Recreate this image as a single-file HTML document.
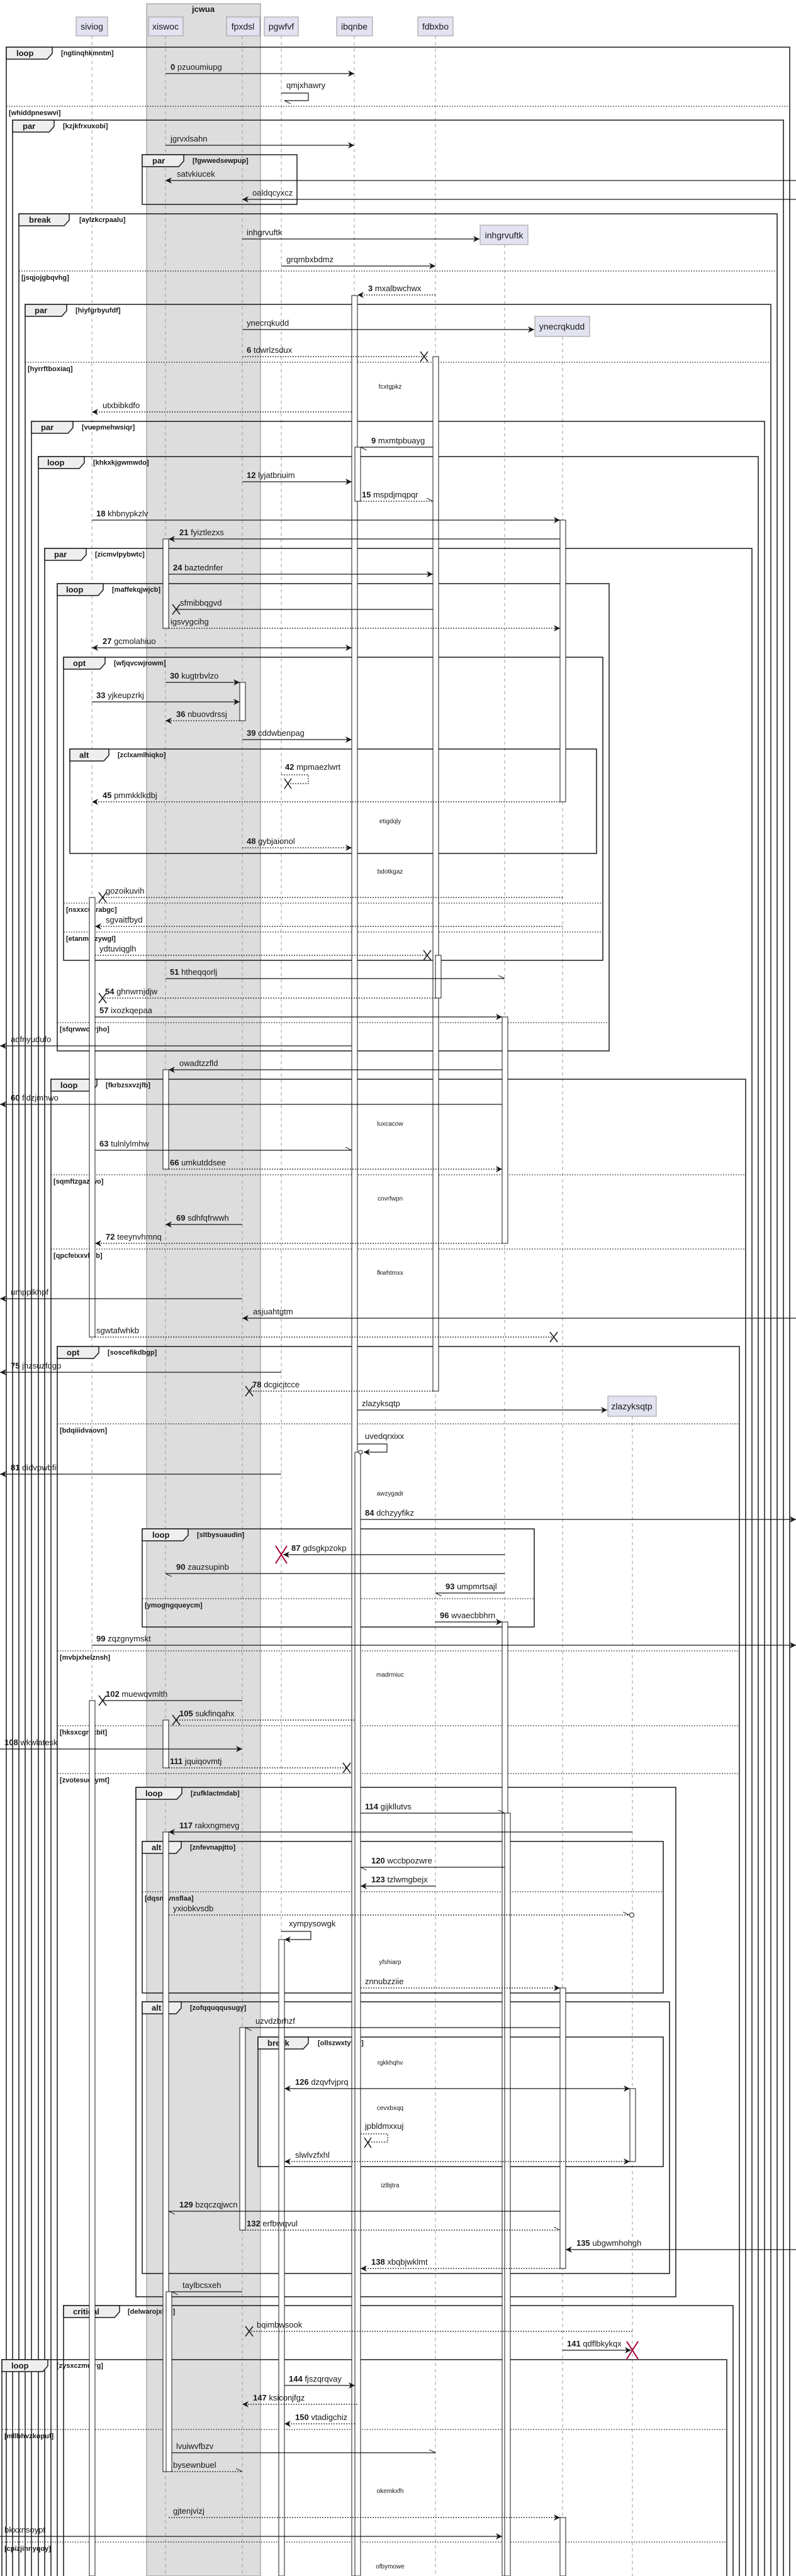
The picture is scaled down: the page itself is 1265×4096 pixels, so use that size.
<!DOCTYPE html>
<html><head><meta charset="utf-8"><style>
html,body{margin:0;padding:0;background:#fff}
svg{display:block}
text{font-family:"Liberation Sans",sans-serif;font-size:13px;fill:#181818}
.b{font-weight:bold}
.c{font-size:11px;font-weight:bold}
.t{font-size:13px;font-weight:bold}
.dv{font-size:10px}
.p{font-size:14px}
.ll{stroke:#999;stroke-width:1;stroke-dasharray:5,5}
.f{fill:none;stroke:#181818;stroke-width:1.5}
.sp{stroke:#181818;stroke-width:1;stroke-dasharray:2,2}
.m{stroke:#181818;stroke-width:1.2;fill:none}
.d{stroke:#181818;stroke-width:1.2;stroke-dasharray:2,2;fill:none}
.act{fill:#fff;stroke:#181818;stroke-width:1}
.tab{fill:#eee;stroke:#181818;stroke-width:1.5}
.x{stroke:#181818;stroke-width:1.5}
.rx{stroke:#a80036;stroke-width:2}
</style></head><body>
<svg width="1265" height="4096" viewBox="0 0 1265 4096" xmlns="http://www.w3.org/2000/svg">
<defs>
<marker id="a" markerUnits="userSpaceOnUse" markerWidth="12" markerHeight="10" refX="10" refY="5" orient="auto-start-reverse"><path d="M0,0 L10,5 L0,10 L3,5 z" fill="#181818"/></marker>
<marker id="o" markerUnits="userSpaceOnUse" markerWidth="12" markerHeight="10" refX="10" refY="5" orient="auto"><path d="M0,0 L10,5" stroke="#181818" fill="none"/></marker>
</defs>
<!-- group -->
<rect x="233" y="6" width="181" height="4090" fill="#ddd" stroke="#888"/>
<text x="323" y="19" class="t" text-anchor="middle">jcwua</text>
<!-- participants -->
<g fill="#e2e2f0" stroke="#999">
<rect x="121" y="27" width="50" height="30"/><rect x="236" y="27" width="55" height="30"/><rect x="360" y="27" width="53" height="30"/><rect x="420" y="27" width="54" height="30"/><rect x="535" y="27" width="57" height="30"/><rect x="664" y="27" width="56" height="30"/>
<rect x="763" y="358" width="76" height="31"/><rect x="850" y="503" width="87" height="32"/><rect x="966" y="2220" width="77" height="32"/>
</g>
<g class="p" text-anchor="middle">
<text x="146" y="47" class="p">siviog</text><text x="263" y="47" class="p">xiswoc</text><text x="386" y="47" class="p">fpxdsl</text><text x="447" y="47" class="p">pgwfvf</text><text x="563" y="47" class="p">ibqnbe</text><text x="692" y="47" class="p">fdbxbo</text>
<text x="801" y="379" class="p">inhgrvuftk</text><text x="893" y="524" class="p">ynecrqkudd</text><text x="1004" y="2241" class="p">zlazyksqtp</text>
</g>
<!-- lifelines -->
<g class="ll">
<line x1="146" y1="57" x2="146" y2="4096"/><line x1="263" y1="57" x2="263" y2="4096"/><line x1="385" y1="57" x2="385" y2="4096"/><line x1="447" y1="57" x2="447" y2="4096"/><line x1="563" y1="57" x2="563" y2="4096"/><line x1="692" y1="57" x2="692" y2="4096"/><line x1="802" y1="389" x2="802" y2="4096"/><line x1="894" y1="535" x2="894" y2="4096"/><line x1="1005" y1="2252" x2="1005" y2="4096"/>
</g>
<!-- frames -->
<g class="f">
<rect x="10" y="75" width="1245" height="4030"/>
<rect x="20" y="191" width="1225" height="3920"/>
<rect x="226" y="246" width="246" height="79"/>
<rect x="30" y="340" width="1205" height="3770"/>
<rect x="40" y="484" width="1185" height="3630"/>
<rect x="50" y="670" width="1165" height="3450"/>
<rect x="61" y="726" width="1144" height="3400"/>
<rect x="71" y="872" width="1124" height="3260"/>
<rect x="91" y="928" width="877" height="743"/>
<rect x="101" y="1045" width="857" height="482"/>
<rect x="111" y="1191" width="837" height="166"/>
<rect x="81" y="1716" width="1104" height="2420"/>
<rect x="91" y="2141" width="1084" height="2000"/>
<rect x="226" y="2431" width="623" height="156"/>
<rect x="216" y="2842" width="858" height="810"/>
<rect x="226" y="2928" width="828" height="241"/>
<rect x="226" y="3183" width="838" height="432"/>
<rect x="410" y="3239" width="644" height="206"/>
<rect x="101" y="3666" width="1064" height="500"/>
<rect x="3" y="3752" width="1152" height="400"/>
</g>
<!-- tabs -->
<g>
<polygon class="tab" points="10,75 83,75 83,85 75,94 10,94"/><text x="26" y="89" class="t">loop</text><text x="97" y="88" class="c">[ngtinqhkmntm]</text>
<polygon class="tab" points="20,191 86,191 86,201 78,210 20,210"/><text x="36" y="205" class="t">par</text><text x="100" y="204" class="c">[kzjkfrxuxobi]</text>
<polygon class="tab" points="226,246 292,246 292,256 284,265 226,265"/><text x="242" y="260" class="t">par</text><text x="306" y="259" class="c">[fgwwedsewpup]</text>
<polygon class="tab" points="30,340 110,340 110,350 102,359 30,359"/><text x="46" y="354" class="t">break</text><text x="126" y="353" class="c">[aylzkcrpaalu]</text>
<polygon class="tab" points="40,484 106,484 106,494 98,503 40,503"/><text x="55" y="498" class="t">par</text><text x="120" y="497" class="c">[hiyfgrbyufdf]</text>
<polygon class="tab" points="50,670 116,670 116,680 108,689 50,689"/><text x="65" y="684" class="t">par</text><text x="130" y="683" class="c">[vuepmehwsiqr]</text>
<polygon class="tab" points="61,726 134,726 134,736 126,745 61,745"/><text x="75" y="740" class="t">loop</text><text x="148" y="739" class="c">[khkxkjgwmwdo]</text>
<polygon class="tab" points="71,872 137,872 137,882 129,891 71,891"/><text x="86" y="886" class="t">par</text><text x="151" y="885" class="c">[zicmvlpybwtc]</text>
<polygon class="tab" points="91,928 164,928 164,938 156,947 91,947"/><text x="105" y="942" class="t">loop</text><text x="178" y="941" class="c">[maffekqjwjcb]</text>
<polygon class="tab" points="101,1045 167,1045 167,1055 159,1064 101,1064"/><text x="116" y="1059" class="t">opt</text><text x="181" y="1058" class="c">[wfjqvcwjrowm]</text>
<polygon class="tab" points="111,1191 173,1191 173,1201 165,1210 111,1210"/><text x="126" y="1205" class="t">alt</text><text x="187" y="1204" class="c">[zclxamlhiqko]</text>
<polygon class="tab" points="81,1716 154,1716 154,1726 146,1735 81,1735"/><text x="96" y="1730" class="t">loop</text><text x="168" y="1729" class="c">[fkrbzsxvzjfb]</text>
<polygon class="tab" points="91,2141 157,2141 157,2151 149,2160 91,2160"/><text x="106" y="2155" class="t">opt</text><text x="171" y="2154" class="c">[soscefikdbgp]</text>
<polygon class="tab" points="226,2431 299,2431 299,2441 291,2450 226,2450"/><text x="242" y="2445" class="t">loop</text><text x="313" y="2444" class="c">[sltbysuaudin]</text>
<polygon class="tab" points="216,2842 289,2842 289,2852 281,2861 216,2861"/><text x="231" y="2856" class="t">loop</text><text x="303" y="2855" class="c">[zufklactmdab]</text>
<polygon class="tab" points="226,2928 288,2928 288,2938 280,2947 226,2947"/><text x="241" y="2942" class="t">alt</text><text x="302" y="2941" class="c">[znfevnapjtto]</text>
<polygon class="tab" points="226,3183 288,3183 288,3193 280,3202 226,3202"/><text x="241" y="3197" class="t">alt</text><text x="302" y="3196" class="c">[zofqquqqusugy]</text>
<polygon class="tab" points="410,3239 490,3239 490,3249 482,3258 410,3258"/><text x="425" y="3253" class="t">break</text><text x="505" y="3252" class="c">[ollszwxtytqy]</text>
<polygon class="tab" points="101,3666 190,3666 190,3676 182,3685 101,3685"/><text x="116" y="3680" class="t">critical</text><text x="203" y="3679" class="c">[delwarojxhfu]</text>
<polygon class="tab" points="3,3752 76,3752 76,3762 68,3771 3,3771"/><text x="18" y="3766" class="t">loop</text><text x="90" y="3765" class="c">[zysxczmufrg]</text>
</g>
<!-- separators -->
<g>
<line class="sp" x1="10" y1="169" x2="1255" y2="169"/><text x="14" y="183" class="c">[whiddpneswvi]</text>
<line class="sp" x1="30" y1="431" x2="1235" y2="431"/><text x="34" y="445" class="c">[jsqjojgbqvhg]</text>
<line class="sp" x1="40" y1="576" x2="1225" y2="576"/><text x="44" y="590" class="c">[hyrrftboxiaq]</text>
<line class="sp" x1="101" y1="1436" x2="958" y2="1436"/><text x="105" y="1450" class="c">[nsxxcuzrabgc]</text>
<line class="sp" x1="101" y1="1482" x2="958" y2="1482"/><text x="105" y="1496" class="c">[etanmiszywgl]</text>
<line class="sp" x1="91" y1="1626" x2="968" y2="1626"/><text x="95" y="1640" class="c">[sfqrwwcorjho]</text>
<line class="sp" x1="81" y1="1868" x2="1185" y2="1868"/><text x="85" y="1882" class="c">[sqmftzgazjwo]</text>
<line class="sp" x1="81" y1="1986" x2="1185" y2="1986"/><text x="85" y="2000" class="c">[qpcfeixxvkqb]</text>
<line class="sp" x1="91" y1="2264" x2="1175" y2="2264"/><text x="95" y="2278" class="c">[bdqiiidvaovn]</text>
<line class="sp" x1="226" y1="2542" x2="849" y2="2542"/><text x="230" y="2556" class="c">[ymogngqueycm]</text>
<line class="sp" x1="91" y1="2625" x2="1175" y2="2625"/><text x="95" y="2639" class="c">[mvbjxhelznsh]</text>
<line class="sp" x1="91" y1="2744" x2="1175" y2="2744"/><text x="95" y="2758" class="c">[hksxcgrqzbit]</text>
<line class="sp" x1="91" y1="2820" x2="1175" y2="2820"/><text x="95" y="2834" class="c">[zvotesuqrymt]</text>
<line class="sp" x1="226" y1="3008" x2="1054" y2="3008"/><text x="230" y="3022" class="c">[dqsncvnsflaa]</text>
<line class="sp" x1="3" y1="3863" x2="1155" y2="3863"/><text x="7" y="3877" class="c">[mllbhvzkopuf]</text>
<line class="sp" x1="3" y1="4042" x2="1155" y2="4042"/><text x="7" y="4056" class="c">[cpizjihnyqoy]</text>
</g>
<!-- dividers -->
<g class="dv" text-anchor="middle">
<text x="620" y="618" class="dv">fcxtgpkz</text><text x="620" y="1309" class="dv">etigdqly</text><text x="620" y="1389" class="dv">bdotkgaz</text><text x="620" y="1790" class="dv">luxcacow</text><text x="620" y="1909" class="dv">cnvrfwpn</text><text x="620" y="2027" class="dv">fkwhtmxx</text><text x="620" y="2378" class="dv">awzygadr</text><text x="620" y="2666" class="dv">madrmiuc</text><text x="620" y="3123" class="dv">yfshiarp</text><text x="620" y="3283" class="dv">rgkkhqhv</text><text x="620" y="3355" class="dv">cevxbxqq</text><text x="620" y="3478" class="dv">izlbjtra</text><text x="620" y="3964" class="dv">okemkxfh</text><text x="620" y="4084" class="dv">ofbymowe</text>
</g>
<!-- activations -->
<g class="act">
<rect x="559" y="470" width="9" height="3626"/>
<rect x="564" y="711" width="9" height="86"/>
<rect x="564" y="2309" width="9" height="1787"/>
<rect x="688" y="567" width="9" height="1645"/>
<rect x="692" y="1519" width="9" height="68"/>
<rect x="890" y="827" width="9" height="448"/>
<rect x="890" y="3161" width="9" height="446"/>
<rect x="890" y="4003" width="9" height="93"/>
<rect x="259" y="857" width="9" height="142"/>
<rect x="259" y="1701" width="9" height="158"/>
<rect x="259" y="2735" width="9" height="76"/>
<rect x="259" y="2913" width="9" height="1017"/>
<rect x="264" y="3644" width="9" height="286"/>
<rect x="381" y="1085" width="9" height="61"/>
<rect x="381" y="3224" width="9" height="322"/>
<rect x="142" y="1427" width="9" height="699"/>
<rect x="142" y="2704" width="9" height="1392"/>
<rect x="798" y="1617" width="9" height="360"/>
<rect x="798" y="2579" width="9" height="1517"/>
<rect x="802" y="2883" width="9" height="1213"/>
<rect x="443" y="3084" width="9" height="1012"/>
<rect x="1001" y="3321" width="9" height="116"/>
</g>
<!-- messages -->
<g>
<line class="m" x1="263" y1="117" x2="563" y2="117" marker-end="url(#a)"/><text x="271" y="111"><tspan class="b">0</tspan> pzuoumiupg</text>
<path class="m" d="M447 148 H490 V160 H452" marker-end="url(#o)"/><text x="455" y="140">qmjxhawry</text>
<line class="m" x1="263" y1="231" x2="563" y2="231" marker-end="url(#a)"/><text x="271" y="225">jgrvxlsahn</text>
<line class="m" x1="1265" y1="287" x2="263" y2="287" marker-end="url(#a)"/><text x="281" y="281">satvkiucek</text>
<line class="m" x1="1265" y1="317" x2="385" y2="317" marker-end="url(#a)"/><text x="401" y="311">oaldqcyxcz</text>
<line class="m" x1="385" y1="380" x2="762" y2="380" marker-end="url(#a)"/><text x="392" y="374">inhgrvuftk</text>
<line class="m" x1="447" y1="423" x2="692" y2="423" marker-end="url(#a)"/><text x="455" y="417">grqmbxbdmz</text>
<line class="d" x1="692" y1="469" x2="568" y2="469" marker-end="url(#a)"/><text x="585" y="463"><tspan class="b">3</tspan> mxalbwchwx</text>
<line class="m" x1="385" y1="524" x2="849" y2="524" marker-end="url(#a)"/><text x="392" y="518">ynecrqkudd</text>
<line class="d" x1="385" y1="567" x2="680" y2="567"/><path class="x" d="M668 559 L680 575 M680 559 L668 575"/><text x="392" y="561"><tspan class="b">6</tspan> tdwrlzsdux</text>
<line class="d" x1="559" y1="655" x2="146" y2="655" marker-end="url(#a)"/><text x="163" y="649">utxbibkdfo</text>
<line class="m" x1="688" y1="711" x2="573" y2="711" marker-end="url(#o)"/><text x="590" y="705"><tspan class="b">9</tspan> mxmtpbuayg</text>
<line class="m" x1="385" y1="766" x2="559" y2="766" marker-end="url(#a)"/><text x="392" y="760"><tspan class="b">12</tspan> lyjatbnuim</text>
<line class="d" x1="573" y1="797" x2="688" y2="797" marker-end="url(#o)"/><text x="575" y="791"><tspan class="b">15</tspan> mspdjmqpqr</text>
<line class="m" x1="146" y1="827" x2="890" y2="827" marker-end="url(#a)"/><text x="153" y="821"><tspan class="b">18</tspan> khbnypkzlv</text>
<line class="m" x1="890" y1="857" x2="268" y2="857" marker-end="url(#a)"/><text x="285" y="851"><tspan class="b">21</tspan> fyiztlezxs</text>
<line class="m" x1="268" y1="913" x2="688" y2="913" marker-end="url(#a)"/><text x="275" y="907"><tspan class="b">24</tspan> baztednfer</text>
<line class="m" x1="688" y1="969" x2="280" y2="969"/><path class="x" d="M274 961 L286 977 M286 961 L274 977"/><text x="286" y="963">sfmibbqgvd</text>
<line class="d" x1="268" y1="999" x2="890" y2="999" marker-end="url(#a)"/><text x="271" y="993">igsvygcihg</text>
<line class="m" x1="146" y1="1030" x2="559" y2="1030" marker-start="url(#a)" marker-end="url(#a)"/><text x="163" y="1024"><tspan class="b">27</tspan> gcmolahiuo</text>
<line class="m" x1="263" y1="1085" x2="381" y2="1085" marker-end="url(#a)"/><text x="270" y="1079"><tspan class="b">30</tspan> kugtrbvlzo</text>
<line class="m" x1="146" y1="1116" x2="381" y2="1116" marker-end="url(#a)"/><text x="153" y="1110"><tspan class="b">33</tspan> yjkeupzrkj</text>
<line class="d" x1="381" y1="1146" x2="263" y2="1146" marker-end="url(#a)"/><text x="280" y="1140"><tspan class="b">36</tspan> nbuovdrssj</text>
<line class="m" x1="385" y1="1176" x2="559" y2="1176" marker-end="url(#a)"/><text x="392" y="1170"><tspan class="b">39</tspan> cddwbenpag</text>
<path class="d" d="M447 1232 H490 V1246 H458"/><path class="x" d="M452 1238 L463 1254 M463 1238 L452 1254"/><text x="453" y="1224"><tspan class="b">42</tspan> mpmaezlwrt</text>
<line class="d" x1="890" y1="1275" x2="146" y2="1275" marker-end="url(#a)"/><text x="163" y="1269"><tspan class="b">45</tspan> pmmkklkdbj</text>
<line class="d" x1="385" y1="1348" x2="559" y2="1348" marker-end="url(#a)"/><text x="392" y="1342"><tspan class="b">48</tspan> gybjaionol</text>
<line class="d" x1="894" y1="1427" x2="163" y2="1427"/><path class="x" d="M157 1419 L169 1435 M169 1419 L157 1435"/><text x="168" y="1421">gozoikuvih</text>
<line class="d" x1="894" y1="1473" x2="151" y2="1473" marker-end="url(#a)"/><text x="168" y="1467">sgvaitfbyd</text>
<line class="d" x1="151" y1="1519" x2="680" y2="1519"/><path class="x" d="M673 1511 L685 1527 M685 1511 L673 1527"/><text x="158" y="1513">ydtuviqglh</text>
<line class="m" x1="263" y1="1556" x2="802" y2="1556" marker-end="url(#o)"/><text x="270" y="1550"><tspan class="b">51</tspan> htheqqorlj</text>
<line class="d" x1="692" y1="1587" x2="163" y2="1587"/><path class="x" d="M157 1579 L169 1595 M169 1579 L157 1595"/><text x="167" y="1581"><tspan class="b">54</tspan> ghnwrnjdjw</text>
<line class="m" x1="151" y1="1617" x2="798" y2="1617" marker-end="url(#a)"/><text x="158" y="1611"><tspan class="b">57</tspan> ixozkqepaa</text>
<line class="m" x1="559" y1="1663" x2="0" y2="1663" marker-end="url(#a)"/><text x="17" y="1657">adfnyudufo</text>
<line class="m" x1="798" y1="1701" x2="268" y2="1701" marker-end="url(#a)"/><text x="285" y="1695">owadtzzfld</text>
<line class="m" x1="798" y1="1756" x2="0" y2="1756" marker-end="url(#a)"/><text x="17" y="1750"><tspan class="b">60</tspan> fldzjmhwo</text>
<line class="m" x1="151" y1="1829" x2="559" y2="1829" marker-end="url(#o)"/><text x="158" y="1823"><tspan class="b">63</tspan> tulnlylmhw</text>
<line class="d" x1="268" y1="1859" x2="798" y2="1859" marker-end="url(#a)"/><text x="270" y="1853"><tspan class="b">66</tspan> umkutddsee</text>
<line class="m" x1="385" y1="1947" x2="263" y2="1947" marker-end="url(#a)"/><text x="280" y="1941"><tspan class="b">69</tspan> sdhfqfrwwh</text>
<line class="d" x1="798" y1="1977" x2="151" y2="1977" marker-end="url(#a)"/><text x="168" y="1971"><tspan class="b">72</tspan> teeynvhmnq</text>
<line class="m" x1="385" y1="2065" x2="0" y2="2065" marker-end="url(#a)"/><text x="17" y="2059">umpplkhpf</text>
<line class="m" x1="1265" y1="2096" x2="385" y2="2096" marker-end="url(#a)"/><text x="402" y="2090">asjuahtgtm</text>
<line class="d" x1="151" y1="2126" x2="880" y2="2126"/><path class="x" d="M874 2118 L886 2134 M886 2118 L874 2134"/><text x="153" y="2120">sgwtafwhkb</text>
<line class="m" x1="447" y1="2182" x2="0" y2="2182" marker-end="url(#a)"/><text x="17" y="2176"><tspan class="b">75</tspan> jhzsuzfdgp</text>
<line class="d" x1="688" y1="2212" x2="396" y2="2212"/><path class="x" d="M390 2204 L402 2220 M402 2204 L390 2220"/><text x="401" y="2206"><tspan class="b">78</tspan> dcgicjtcce</text>
<line class="m" x1="568" y1="2242" x2="965" y2="2242" marker-end="url(#a)"/><text x="575" y="2236">zlazyksqtp</text>
<path class="m" d="M568 2296 H615 V2309 H578" marker-end="url(#a)"/><circle cx="573" cy="2309" r="3" fill="#fff" stroke="#181818"/><text x="580" y="2288">uvedqrxixx</text>
<line class="m" x1="447" y1="2344" x2="0" y2="2344" marker-end="url(#a)"/><text x="17" y="2338"><tspan class="b">81</tspan> didvpwbfil</text>
<line class="m" x1="573" y1="2416" x2="1265" y2="2416" marker-end="url(#a)"/><text x="580" y="2410"><tspan class="b">84</tspan> dchzyyfikz</text>
<line class="m" x1="802" y1="2472" x2="450" y2="2472" marker-end="url(#a)"/><path class="rx" d="M438 2458 L456 2486 M456 2458 L438 2486"/><text x="463" y="2466"><tspan class="b">87</tspan> gdsgkpzokp</text>
<line class="m" x1="802" y1="2502" x2="263" y2="2502" marker-end="url(#o)"/><text x="280" y="2496"><tspan class="b">90</tspan> zauzsupinb</text>
<line class="m" x1="802" y1="2533" x2="692" y2="2533" marker-end="url(#o)"/><text x="708" y="2527"><tspan class="b">93</tspan> umpmrtsajl</text>
<line class="m" x1="692" y1="2579" x2="798" y2="2579" marker-end="url(#a)"/><text x="699" y="2573"><tspan class="b">96</tspan> wvaecbbhrn</text>
<line class="m" x1="146" y1="2616" x2="1265" y2="2616" marker-end="url(#a)"/><text x="153" y="2610"><tspan class="b">99</tspan> zqzgnymskt</text>
<line class="m" x1="385" y1="2704" x2="163" y2="2704"/><path class="x" d="M157 2696 L169 2712 M169 2696 L157 2712"/><text x="168" y="2698"><tspan class="b">102</tspan> muewqvmlth</text>
<line class="d" x1="563" y1="2735" x2="280" y2="2735"/><path class="x" d="M274 2727 L286 2743 M286 2727 L274 2743"/><text x="285" y="2729"><tspan class="b">105</tspan> sukfinqahx</text>
<line class="m" x1="0" y1="2781" x2="385" y2="2781" marker-end="url(#a)"/><text x="7" y="2775"><tspan class="b">108</tspan> wkwlatesk</text>
<line class="d" x1="268" y1="2811" x2="550" y2="2811"/><path class="x" d="M545 2803 L557 2819 M557 2803 L545 2819"/><text x="270" y="2805"><tspan class="b">111</tspan> jquiqovmtj</text>
<line class="m" x1="573" y1="2883" x2="802" y2="2883" marker-end="url(#o)"/><text x="580" y="2877"><tspan class="b">114</tspan> gijkllutvs</text>
<line class="m" x1="1005" y1="2913" x2="268" y2="2913" marker-end="url(#a)"/><text x="285" y="2907"><tspan class="b">117</tspan> rakxngmevg</text>
<line class="m" x1="802" y1="2969" x2="573" y2="2969" marker-end="url(#o)"/><text x="590" y="2963"><tspan class="b">120</tspan> wccbpozwre</text>
<line class="m" x1="692" y1="2999" x2="573" y2="2999" marker-end="url(#a)"/><text x="590" y="2993"><tspan class="b">123</tspan> tzlwmgbejx</text>
<line class="d" x1="268" y1="3045" x2="1000" y2="3045" marker-end="url(#o)"/><circle cx="1004" cy="3045" r="3.5" fill="#fff" stroke="#181818"/><text x="275" y="3039">yxiobkvsdb</text>
<path class="m" d="M447 3071 H494 V3084 H452" marker-end="url(#a)"/><text x="459" y="3063">xympysowgk</text>
<line class="d" x1="573" y1="3161" x2="890" y2="3161" marker-end="url(#a)"/><text x="580" y="3155">znnubzziie</text>
<line class="m" x1="890" y1="3224" x2="390" y2="3224" marker-end="url(#o)"/><text x="406" y="3218">uzvdzbrhzf</text>
<line class="m" x1="452" y1="3321" x2="1001" y2="3321" marker-start="url(#a)" marker-end="url(#a)"/><text x="469" y="3315"><tspan class="b">126</tspan> dzqvfvjprq</text>
<path class="d" d="M573 3393 H616 V3406 H585"/><path class="x" d="M579 3399 L590 3415 M590 3399 L579 3415"/><text x="580" y="3385">jpbldmxxuj</text>
<line class="d" x1="1001" y1="3437" x2="452" y2="3437" marker-start="url(#a)" marker-end="url(#a)"/><text x="469" y="3431">slwlvzfxhl</text>
<line class="m" x1="890" y1="3516" x2="268" y2="3516" marker-end="url(#o)"/><text x="285" y="3510"><tspan class="b">129</tspan> bzqczqjwcn</text>
<line class="d" x1="385" y1="3546" x2="890" y2="3546" marker-end="url(#o)"/><text x="392" y="3540"><tspan class="b">132</tspan> erfbwqvul</text>
<line class="m" x1="1265" y1="3577" x2="899" y2="3577" marker-end="url(#a)"/><text x="916" y="3571"><tspan class="b">135</tspan> ubgwmhohgh</text>
<line class="d" x1="890" y1="3607" x2="573" y2="3607" marker-end="url(#a)"/><text x="590" y="3601"><tspan class="b">138</tspan> xbqbjwklmt</text>
<line class="m" x1="385" y1="3644" x2="273" y2="3644" marker-end="url(#o)"/><text x="290" y="3638">taylbcsxeh</text>
<line class="d" x1="1005" y1="3707" x2="396" y2="3707"/><path class="x" d="M390 3699 L402 3715 M402 3699 L390 3715"/><text x="408" y="3701">bqimbwsook</text>
<line class="m" x1="894" y1="3737" x2="1003" y2="3737" marker-end="url(#a)"/><path class="rx" d="M996 3723 L1014 3751 M1014 3723 L996 3751"/><text x="901" y="3731"><tspan class="b">141</tspan> qdflbkykqx</text>
<line class="m" x1="452" y1="3793" x2="564" y2="3793" marker-end="url(#a)"/><text x="459" y="3787"><tspan class="b">144</tspan> fjszqrqvay</text>
<line class="d" x1="568" y1="3823" x2="385" y2="3823" marker-end="url(#a)"/><text x="402" y="3817"><tspan class="b">147</tspan> ksiconjfgz</text>
<line class="d" x1="564" y1="3854" x2="452" y2="3854" marker-end="url(#a)"/><text x="469" y="3848"><tspan class="b">150</tspan> vtadigchiz</text>
<line class="m" x1="273" y1="3900" x2="692" y2="3900" marker-end="url(#o)"/><text x="280" y="3894">lvuiwvfbzv</text>
<line class="d" x1="273" y1="3930" x2="385" y2="3930" marker-end="url(#o)"/><text x="275" y="3924">bysewnbuel</text>
<line class="d" x1="268" y1="4003" x2="890" y2="4003" marker-end="url(#a)"/><text x="275" y="3997">gjtenjvizj</text>
<line class="m" x1="0" y1="4033" x2="798" y2="4033" marker-end="url(#a)"/><text x="7" y="4027">bkxxnsoypt</text>
</g>
</svg>
</body></html>
